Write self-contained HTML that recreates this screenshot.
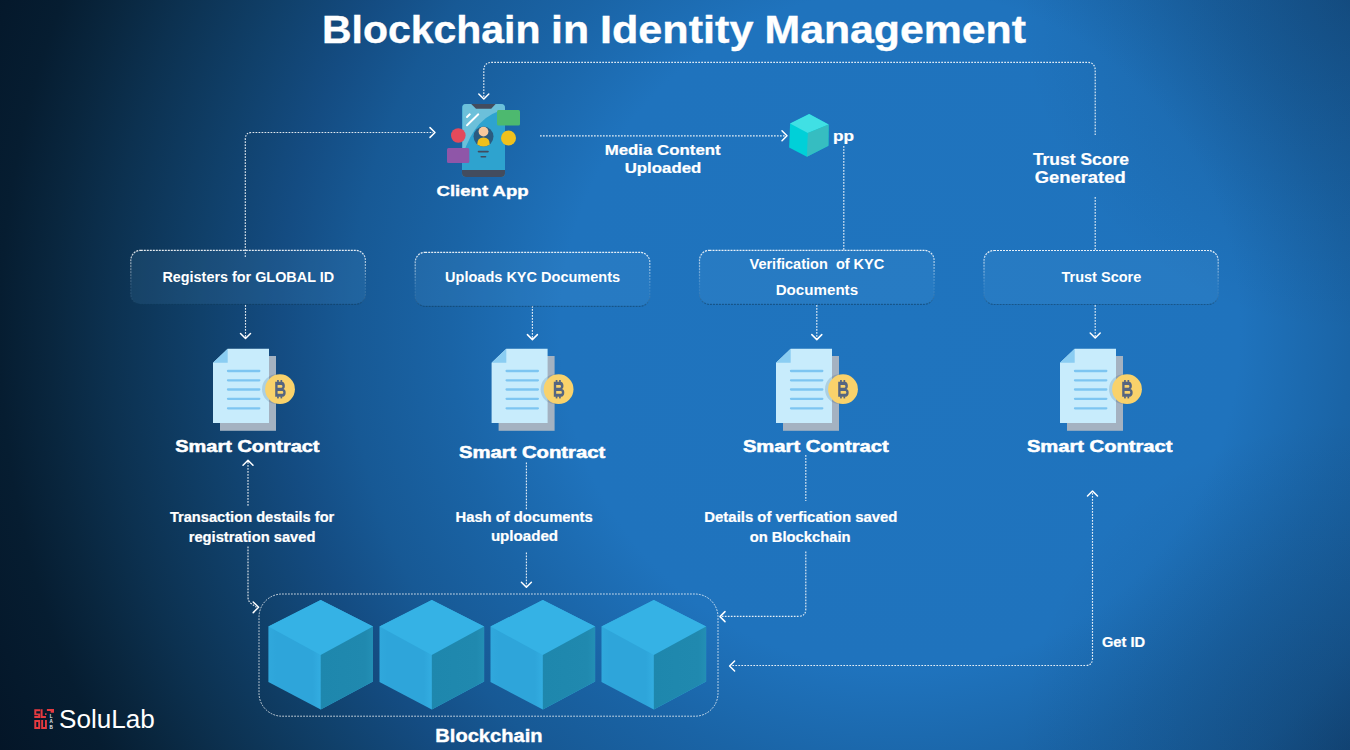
<!DOCTYPE html>
<html><head><meta charset="utf-8">
<style>
html,body{margin:0;padding:0;}
body{width:1350px;height:750px;overflow:hidden;position:relative;
background:radial-gradient(circle at 1350px 0px,rgba(8,30,55,0.22) 0px,rgba(8,30,55,0) 330px),radial-gradient(circle at 1350px 750px,rgba(8,30,55,0.22) 0px,rgba(8,30,55,0) 330px),radial-gradient(circle at 900px 330px,#1f74be 0px,#1f73bd 340px,#1a64a6 450px,#175995 550px,#144c82 620px,#10406a 700px,#0c3150 790px,#09263e 850px,#061d31 900px,#041527 1000px);
font-family:"Liberation Sans",sans-serif;}
svg{position:absolute;left:0;top:0;}
text{font-family:"Liberation Sans",sans-serif;font-weight:bold;fill:#fff;stroke:#fff;stroke-width:0.35px;}
.k0 text{stroke-width:0;}
.k2 text{stroke-width:0.2px;}
.k5 text{stroke-width:0.55px;}
</style></head>
<body>
<svg width="1350" height="750" viewBox="0 0 1350 750">
<defs>
  <g id="doc">
    <rect x="7" y="7.3" width="56" height="74.8" fill="#a4b2c1"/>
    <path d="M0 14 L14.7 0 H56 V74.2 H0 Z" fill="#c8ecfc"/>
    <path d="M0 14 L14.7 0 V14 Z" fill="#8acdf2"/>
    <g stroke="#7dc5f1" stroke-width="2.3" stroke-linecap="round">
      <line x1="15" y1="22.3" x2="46.3" y2="22.3"/>
      <line x1="15" y1="31.6" x2="46.3" y2="31.6"/>
      <line x1="15" y1="40.8" x2="46.3" y2="40.8"/>
      <line x1="15" y1="50.1" x2="46.3" y2="50.1"/>
      <line x1="15" y1="59.6" x2="46.3" y2="59.6"/>
    </g>
    <circle cx="64" cy="40.5" r="15" fill="#00284f" fill-opacity="0.14"/>
    <circle cx="67" cy="40.5" r="14.9" fill="#f9d26b"/>
    <g transform="translate(67 40.5)" fill="#556581">
      <path fill-rule="evenodd" d="M-4.8 -7.5 H1.8 C5.6 -7.5 5.6 -0.6 3.4 -0.3 C6.6 0 6.6 7.5 2.6 7.5 H-4.8 Z M-2.4 -4.1 H1.5 C2.8 -4.1 2.8 -1.5 1.5 -1.5 H-2.4 Z M-2.4 1.7 H2.1 C3.7 1.7 3.7 4.6 2.1 4.6 H-2.4 Z"/>
      <rect x="-2.9" y="-9.2" width="1.7" height="2.2"/>
      <rect x="0.5" y="-9.2" width="1.7" height="2.2"/>
      <rect x="-2.9" y="7" width="1.7" height="2.2"/>
      <rect x="0.5" y="7" width="1.7" height="2.2"/>
    </g>
  </g>
  <linearGradient id="cl" x1="-52.3" y1="0" x2="0" y2="0" gradientUnits="userSpaceOnUse">
    <stop offset="0" stop-color="#30a8dc"/><stop offset="0.15" stop-color="#2ea5da"/><stop offset="0.85" stop-color="#2ea5da"/><stop offset="1" stop-color="#33ade1"/>
  </linearGradient>
  <linearGradient id="cr" x1="0" y1="0" x2="52.3" y2="0" gradientUnits="userSpaceOnUse">
    <stop offset="0" stop-color="#1e87ad"/><stop offset="0.85" stop-color="#2089af"/><stop offset="1" stop-color="#238fb5"/>
  </linearGradient>
  <g id="cube">
    <path d="M0 -55 L52.3 -28.5 L52.3 26.5 L0 54.5 L-52.3 27 L-52.3 -28.5 Z" fill="url(#cl)"/>
    <path d="M0 -55 L52.3 -28.5 L0 0 L-52.3 -28.5 Z" fill="#35b2e5"/>
    <path d="M0 0 L52.3 -28.5 L52.3 26.5 L0 54.5 Z" fill="url(#cr)"/>
  </g>
</defs>

<!-- Title -->
<g style="font-size:38px">
<text x="322.0" y="42.8" textLength="218.5" lengthAdjust="spacingAndGlyphs">Blockchain</text>
<text x="551.0" y="42.8" textLength="38.0" lengthAdjust="spacingAndGlyphs">in</text>
<text x="600.0" y="42.8" textLength="153.5" lengthAdjust="spacingAndGlyphs">Identity</text>
<text x="764.5" y="42.8" textLength="261.5" lengthAdjust="spacingAndGlyphs">Management</text>
</g>

<!-- dashed connectors -->
<g fill="none" stroke="#fff" stroke-width="1.15" stroke-dasharray="1.7 1.3" opacity="0.88">
  <path d="M245.3 257 V139 Q245.3 132.5 252 132.5 H433"/>
  <path d="M483.8 97 V70.5 Q483.8 62.3 492 62.3 H1087 Q1095.2 62.3 1095.2 70.5 V135"/>
  <path d="M1095.2 197 V250"/>
  <path d="M540 135.8 H785"/>
  <path d="M843.8 146 V250"/>
  <path d="M245.5 305 V337"/>
  <path d="M532.4 306 V338"/>
  <path d="M816.8 305 V338"/>
  <path d="M1095.2 305 V337"/>
  <path d="M248 462 V506"/>
  <path d="M248 546.5 V597 Q248 601.5 251.5 603.8 L256.5 607.2"/>
  <path d="M526.4 462.5 V509.5"/>
  <path d="M526.4 552.5 V586"/>
  <path d="M805.8 455 V501"/>
  <path d="M805.8 551.5 V609 Q805.8 616.3 798.5 616.3 H722"/>
  <path d="M1092.5 493 V658.5 Q1092.5 665.5 1085.5 665.5 H731"/>
</g>
<!-- arrow heads -->
<g fill="none" stroke="#fff" stroke-width="1.5" stroke-linecap="round" stroke-linejoin="round">
  <path d="M430 127.6 L435 132.5 L430 137.4"/>
  <path d="M478.8 94 L483.8 99 L488.8 94"/>
  <path d="M782 130.8 L787 135.8 L782 140.8"/>
  <path d="M240.5 333.5 L245.5 338.5 L250.5 333.5"/>
  <path d="M527.4 334.6 L532.4 339.6 L537.4 334.6"/>
  <path d="M811.8 334.6 L816.8 339.6 L821.8 334.6"/>
  <path d="M1090.2 333 L1095.2 338 L1100.2 333"/>
  <path d="M243 465.2 L248 460.2 L253 465.2"/>
  <path d="M253.2 602 L258.6 607.3 L253.2 612.6"/>
  <path d="M521.4 582.2 L526.4 587.2 L531.4 582.2"/>
  <path d="M725 611.6 L720 616.6 L725 621.6"/>
  <path d="M1087.5 496 L1092.5 491 L1097.5 496"/>
  <path d="M734.6 661 L729.6 666 L734.6 671"/>
</g>

<!-- Boxes -->
<defs>
  <linearGradient id="bst" x1="0" y1="0" x2="0" y2="1">
    <stop offset="0" stop-color="#fff" stop-opacity="0.9"/>
    <stop offset="0.35" stop-color="#fff" stop-opacity="0.45"/>
    <stop offset="0.7" stop-color="#9cc0e0" stop-opacity="0.15"/>
    <stop offset="1" stop-color="#0a3555" stop-opacity="0.5"/>
  </linearGradient>
</defs>
<g fill="#6fb2f0" fill-opacity="0.11" stroke="url(#bst)" stroke-width="1.2" stroke-dasharray="2 1">
  <rect x="130.8" y="250.3" width="234.6" height="54" rx="10"/>
  <rect x="415.2" y="252.3" width="234.6" height="54" rx="10"/>
  <rect x="699.5" y="250.3" width="234.6" height="54" rx="10"/>
  <rect x="984" y="250.5" width="234.2" height="54" rx="10"/>
</g>
<g class="k0" style="font-size:13.8px">
  <text x="162.4" y="282" textLength="171.7" lengthAdjust="spacingAndGlyphs">Registers for GLOBAL ID</text>
  <text x="445.1" y="282" textLength="175.0" lengthAdjust="spacingAndGlyphs">Uploads KYC Documents</text>
  <text x="749.5" y="269.3" textLength="134.8" lengthAdjust="spacingAndGlyphs" xml:space="preserve">Verification  of KYC</text>
  <text x="775.7" y="294.9" textLength="82.4" lengthAdjust="spacingAndGlyphs">Documents</text>
  <text x="1061.5" y="282" textLength="79.8" lengthAdjust="spacingAndGlyphs">Trust Score</text>
</g>

<!-- Smart contract docs -->
<use href="#doc" x="213" y="348.7"/>
<use href="#doc" x="491.6" y="348.7"/>
<use href="#doc" x="776" y="348.7"/>
<use href="#doc" x="1060" y="348.7"/>
<g class="k5" style="font-size:17.2px">
  <text x="175.3" y="452" textLength="144.2" lengthAdjust="spacingAndGlyphs">Smart Contract</text>
  <text x="458.9" y="458.4" textLength="146.4" lengthAdjust="spacingAndGlyphs">Smart Contract</text>
  <text x="742.9" y="451.9" textLength="145.8" lengthAdjust="spacingAndGlyphs">Smart Contract</text>
  <text x="1026.9" y="452.2" textLength="145.6" lengthAdjust="spacingAndGlyphs">Smart Contract</text>
</g>

<!-- descriptions -->
<g class="k2" style="font-size:13.8px">
  <text x="169.9" y="522.1" textLength="164.4" lengthAdjust="spacingAndGlyphs">Transaction destails for</text>
  <text x="188.7" y="541.8" textLength="126.8" lengthAdjust="spacingAndGlyphs">registration saved</text>
  <text x="455.5" y="522.1" textLength="137.2" lengthAdjust="spacingAndGlyphs">Hash of documents</text>
  <text x="490.9" y="541.4" textLength="67.2" lengthAdjust="spacingAndGlyphs">uploaded</text>
  <text x="704.3" y="522" textLength="193.2" lengthAdjust="spacingAndGlyphs">Details of verfication saved</text>
  <text x="749.7" y="541.6" textLength="100.8" lengthAdjust="spacingAndGlyphs">on Blockchain</text>
  <text x="1101.9" y="647" textLength="43.2" lengthAdjust="spacingAndGlyphs">Get ID</text>
</g>

<!-- top labels -->
<g class="k2" style="font-size:14.8px">
  <text x="604.7" y="155" textLength="116.0" lengthAdjust="spacingAndGlyphs">Media Content</text>
  <text x="624.7" y="173" textLength="76.6" lengthAdjust="spacingAndGlyphs">Uploaded</text>
  <text x="1032.9" y="165.1" style="font-size:16.6px" textLength="96.0" lengthAdjust="spacingAndGlyphs">Trust Score</text>
  <text x="1034.7" y="182.9" style="font-size:16.6px" textLength="91.0" lengthAdjust="spacingAndGlyphs">Generated</text>
  <text x="833.0" y="141" textLength="21.0" lengthAdjust="spacingAndGlyphs">pp</text>
</g>
<text x="436.5" y="195.8" style="font-size:15.1px" textLength="92.2" lengthAdjust="spacingAndGlyphs">Client App</text>

<!-- client app icon -->
<g>
  <rect x="462" y="104" width="43" height="73" rx="4" fill="#2ea3cf"/>
  <path d="M466 104 H501 Q505 104 505 108 V110 Q476 114 462.5 156 V108 Q462 104 466 104 Z" fill="#6cc0da"/>
  <path d="M462 170 H505 V173 Q505 177 501 177 H466 Q462 177 462 173 Z" fill="#434c5e"/>
  <path d="M471.2 104 H495.6 L491.2 108.8 H476 Z" fill="#434c5e"/>
  <g stroke="#fff" stroke-width="1.9" stroke-linecap="round">
    <line x1="467" y1="117" x2="469.8" y2="114.3"/>
    <line x1="467" y1="125.3" x2="478.3" y2="114.3"/>
  </g>
  <rect x="497" y="110" width="23" height="15.5" rx="1.5" fill="#4db96f"/>
  <circle cx="458.3" cy="135.5" r="7.3" fill="#e34a5b"/>
  <circle cx="508.5" cy="138" r="7.5" fill="#f0c11d"/>
  <rect x="447" y="148" width="22.3" height="15" rx="1.5" fill="#8f56a8"/>
  <circle cx="483.5" cy="136.6" r="10" fill="#2a5b80"/>
  <circle cx="483.5" cy="131.6" r="4.9" fill="#f8c99c"/>
  <path d="M477.2 144.5 Q477.2 137.5 483.5 137.5 Q489.8 137.5 489.8 144.5 Q486.8 146.6 483.5 146.6 Q480.2 146.6 477.2 144.5 Z" fill="#f0c11d"/>
  <line x1="478.5" y1="151.6" x2="488" y2="151.6" stroke="#414b5e" stroke-width="1.6" stroke-linecap="round"/>
  <line x1="481.2" y1="156.7" x2="485.5" y2="156.7" stroke="#414b5e" stroke-width="1.6" stroke-linecap="round"/>
</g>

<!-- small cyan cube -->
<g>
  <path d="M809.2 114 L828.6 124.5 L828.4 145.8 L806.9 156.8 L789.1 147.6 L790.1 123.5 Z" fill="#00d0d8"/>
  <path d="M809.2 114 L828.6 124.5 L807.8 133.1 L790.1 123.5 Z" fill="#40e0e4"/>
  <path d="M807.8 133.1 L828.6 124.5 L828.4 145.8 L806.9 156.8 Z" fill="#36bdc1"/>
</g>

<!-- blockchain -->
<rect x="259" y="594" width="459" height="122.2" rx="23" fill="none" stroke="#fff" stroke-width="1" stroke-dasharray="1.8 1.2" opacity="0.75"/>
<use href="#cube" x="320.7" y="655"/>
<use href="#cube" x="431.8" y="655"/>
<use href="#cube" x="542.8" y="655"/>
<use href="#cube" x="653.8" y="655"/>
<text x="435.3" y="742.4" style="font-size:17.5px" textLength="107.2" lengthAdjust="spacingAndGlyphs">Blockchain</text>

<!-- logo -->
<g fill="#e53a40">
  <path d="M34.3 709.3 H40.2 V711.3 H36.3 V713.4 H40.2 V718.1 H34.3 V716.1 H38.2 V715.3 H34.3 Z"/>
  <path d="M40.6 709.3 H42.6 V716.1 H45.9 V718.1 H40.6 Z"/>
  <rect x="45" y="713.3" width="1.6" height="1.6"/>
  <path d="M46.9 709.1 H54 V712.8 H50.6 V711 H46.9 Z"/>
  <path fill-rule="evenodd" d="M34.3 720 H40.2 V728.9 H34.3 Z M36.3 722 V726.9 H38.2 V722 Z"/>
  <path d="M41.2 720 H43.1 V726.9 H45 V720 H46.9 V728.9 H41.2 Z"/>
</g>
<g fill="#e8eef2" style="font-family:'Liberation Sans',sans-serif;font-weight:bold;font-size:4.6px" text-anchor="middle">
  <text x="51.1" y="718.2" style="stroke-width:0;fill:#e8eef2">L</text>
  <text x="51.1" y="723.4" style="stroke-width:0;fill:#e8eef2">A</text>
  <text x="51.1" y="729" style="stroke-width:0;fill:#e8eef2">B</text>
</g>
<text x="59.0" y="728.4" style="font-size:26.5px;font-weight:normal;stroke-width:0" textLength="95.8" lengthAdjust="spacingAndGlyphs">SoluLab</text>
</svg>
</body></html>
